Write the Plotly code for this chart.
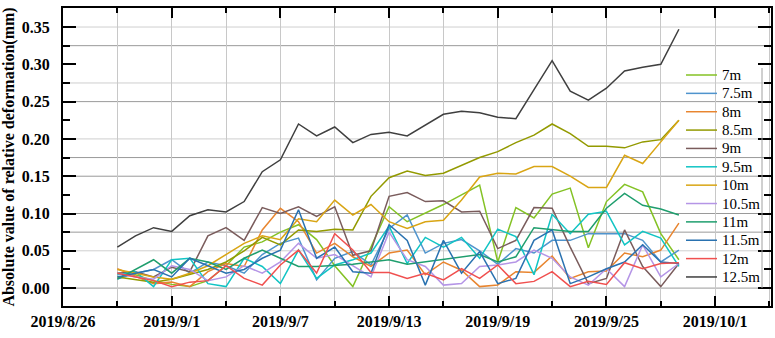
import pandas as pd
import plotly.graph_objects as go

dates = pd.date_range("2019-08-29", "2019-09-29", freq="D")

series_names = ["7m", "7.5m", "8m", "8.5m", "9m", "9.5m", "10m", "10.5m", "11m", "11.5m", "12m", "12.5m"]

v_7m = [0.020, 0.018, 0.010, 0.005, 0.002, 0.010, 0.030, 0.055, 0.062, 0.075, 0.085, 0.065, 0.030, 0.002, 0.055, 0.109,
        0.089, 0.100, 0.112, 0.125, 0.138, 0.035, 0.108, 0.094, 0.126, 0.134, 0.054, 0.116, 0.139, 0.129, 0.073, 0.038]
v_7_5m = [0.012, 0.020, 0.025, 0.038, 0.020, 0.035, 0.030, 0.020, 0.045, 0.060, 0.067, 0.011, 0.040, 0.049, 0.031, 0.080,
          0.098, 0.047, 0.060, 0.065, 0.050, 0.032, 0.053, 0.047, 0.064, 0.064, 0.073, 0.073, 0.073, 0.064, 0.035, 0.051]
v_8m = [0.026, 0.016, 0.006, 0.008, 0.002, 0.022, 0.033, 0.029, 0.078, 0.107, 0.089, 0.047, 0.060, 0.042, 0.029, 0.047,
        0.051, 0.018, 0.035, 0.024, 0.002, 0.004, 0.022, 0.021, 0.043, 0.013, 0.022, 0.023, 0.047, 0.042, 0.051, 0.087]
v_8_5m = [0.015, 0.012, 0.008, 0.012, 0.018, 0.025, 0.035, 0.050, 0.068, 0.058, 0.078, 0.076, 0.079, 0.078, 0.123, 0.148,
          0.157, 0.151, 0.154, 0.164, 0.175, 0.183, 0.195, 0.205, 0.220, 0.207, 0.190, 0.190, 0.188, 0.196, 0.199, 0.225]
v_9m = [0.020, 0.022, 0.015, 0.028, 0.022, 0.070, 0.081, 0.064, 0.108, 0.100, 0.109, 0.096, 0.109, 0.044, 0.050, 0.123,
        0.128, 0.116, 0.117, 0.102, 0.103, 0.053, 0.064, 0.108, 0.107, 0.055, 0.006, 0.013, 0.078, 0.029, 0.002, 0.033]
v_9_5m = [0.018, 0.022, 0.002, 0.038, 0.040, 0.006, 0.002, 0.040, 0.029, 0.006, 0.051, 0.013, 0.031, 0.038, 0.047, 0.083,
          0.033, 0.068, 0.055, 0.068, 0.040, 0.079, 0.069, 0.018, 0.099, 0.073, 0.099, 0.103, 0.058, 0.076, 0.067, 0.029]
v_10m = [0.025, 0.020, 0.015, 0.012, 0.020, 0.030, 0.045, 0.060, 0.070, 0.065, 0.093, 0.089, 0.118, 0.098, 0.112, 0.089,
         0.080, 0.089, 0.091, 0.118, 0.149, 0.154, 0.153, 0.163, 0.163, 0.150, 0.135, 0.135, 0.178, 0.167, 0.196, 0.225]
v_10_5m = [0.020, 0.015, 0.012, 0.030, 0.025, 0.010, 0.015, 0.030, 0.020, 0.035, 0.060, 0.040, 0.045, 0.030, 0.015, 0.075,
           0.038, 0.029, 0.004, 0.006, 0.029, 0.031, 0.035, 0.051, 0.040, 0.015, 0.004, 0.026, 0.002, 0.058, 0.015, 0.033]
v_11m = [0.012, 0.025, 0.038, 0.020, 0.040, 0.035, 0.025, 0.040, 0.051, 0.040, 0.029, 0.029, 0.030, 0.032, 0.035, 0.038,
         0.032, 0.035, 0.038, 0.042, 0.045, 0.035, 0.042, 0.081, 0.078, 0.076, 0.076, 0.107, 0.127, 0.111, 0.106, 0.098]
v_11_5m = [0.015, 0.020, 0.025, 0.015, 0.040, 0.030, 0.020, 0.025, 0.040, 0.051, 0.105, 0.040, 0.055, 0.022, 0.020, 0.085,
           0.064, 0.004, 0.064, 0.020, 0.049, 0.006, 0.013, 0.064, 0.078, 0.006, 0.015, 0.026, 0.035, 0.058, 0.035, 0.033]
v_12m = [0.020, 0.015, 0.010, 0.002, 0.008, 0.010, 0.030, 0.013, 0.004, 0.031, 0.051, 0.020, 0.073, 0.051, 0.021, 0.021,
         0.013, 0.020, 0.011, 0.026, 0.013, 0.031, 0.006, 0.009, 0.022, 0.002, 0.009, 0.005, 0.034, 0.026, 0.033, 0.034]
v_12_5m = [0.055, 0.070, 0.081, 0.076, 0.097, 0.105, 0.102, 0.116, 0.156, 0.172, 0.220, 0.204, 0.216, 0.195, 0.206, 0.209,
           0.204, 0.218, 0.233, 0.237, 0.235, 0.229, 0.227, 0.266, 0.305, 0.264, 0.252, 0.268, 0.291, 0.296, 0.300, 0.347]

series_values = [v_7m, v_7_5m, v_8m, v_8_5m, v_9m, v_9_5m, v_10m, v_10_5m, v_11m, v_11_5m, v_12m, v_12_5m]

colors = ["#84c225", "#4f94cd", "#e8852f", "#939a00", "#7a5c5c", "#11c4c4",
          "#d9a514", "#b595e6", "#1f9e6e", "#2a72b0", "#f0504f", "#3f3f3f"]

y_grid_dark = [0.0, 0.075, 0.10, 0.15, 0.175, 0.25, 0.325]
y_grid_light = [0.05, 0.20, 0.275, 0.35]

SERIF = "Liberation Serif, Times New Roman, serif"

# plot area geometry (pixels)
W, H = 775, 338
ML, MR, MT, MB = 63, 4, 8, 32
PW, PH = W - ML - MR, H - MT - MB


def px_x(p):
    return (p - ML) / PW


def px_y(p):
    return (H - MB - p) / PH


fig = go.Figure()
for name, vals, col in zip(series_names, series_values, colors):
    fig.add_trace(go.Scatter(x=dates, y=vals, mode="lines", name=name,
                             line=dict(color=col, width=1.5), showlegend=False))

shapes = []
annotations = []
for yv in y_grid_dark:
    shapes.append(dict(type="line", xref="paper", yref="y", x0=0, x1=1, y0=yv, y1=yv,
                       line=dict(color="#9a9a9a", width=1), layer="below"))
for yv in y_grid_light:
    shapes.append(dict(type="line", xref="paper", yref="y", x0=0, x1=1, y0=yv, y1=yv,
                       line=dict(color="#cfcfcf", width=1), layer="below"))

# legend (drawn manually to match entry spacing)
leg_top, leg_step = 75, 18.36
for k, (name, col) in enumerate(zip(series_names, colors)):
    yc = px_y(leg_top + leg_step * k)
    shapes.append(dict(type="line", xref="paper", yref="paper", x0=px_x(686), x1=px_x(717), y0=yc, y1=yc,
                       line=dict(color=col, width=1.5)))
    annotations.append(dict(xref="paper", yref="paper", x=px_x(720), y=yc, xanchor="left", yanchor="middle",
                            text=name, showarrow=False,
                            font=dict(family=SERIF, size=15, color="black")))
# partial legend frame line
shapes.append(dict(type="line", xref="paper", yref="paper", x0=px_x(762), x1=px_x(762), y0=px_y(288), y1=px_y(68),
                   line=dict(color="#a0a0a0", width=1)))

fig.update_layout(
    width=W, height=H,
    margin=dict(l=ML, r=MR, t=MT, b=MB),
    paper_bgcolor="white", plot_bgcolor="white",
    font=dict(family=SERIF, size=16, color="black"),
    shapes=shapes, annotations=annotations,
    showlegend=False,
)

fig.update_xaxes(
    type="date",
    range=["2019-08-26", "2019-10-04 02:00"],
    tick0="2019-08-26", dtick=6 * 86400000,
    tickformat="%Y/%-m/%-d",
    ticks="inside", ticklen=10, tickwidth=2, tickcolor="black",
    minor=dict(ticks="inside", ticklen=5, tickwidth=2, tickcolor="black",
               dtick=3 * 86400000, tick0="2019-08-26",
               showgrid=True, gridcolor="#c8c8c8", gridwidth=1),
    showgrid=True, gridcolor="#c8c8c8", gridwidth=1,
    showline=True, linecolor="black", linewidth=2, mirror="allticks",
    tickfont=dict(family=SERIF, size=16, color="black", weight="bold"),
    automargin=False,
    zeroline=False,
)

fig.update_yaxes(
    range=[-0.024, 0.3755],
    tick0=0, dtick=0.05, tickformat=".2f",
    ticks="inside", ticklen=13, tickwidth=2, tickcolor="black",
    minor=dict(ticks="inside", ticklen=7, tickwidth=2, tickcolor="black", dtick=0.025, showgrid=False),
    showgrid=False,
    showline=True, linecolor="black", linewidth=2, mirror="allticks",
    tickfont=dict(family=SERIF, size=16, color="black", weight="bold"),
    ticklabelstandoff=8,
    automargin=False,
    zeroline=False,
    title=dict(text="Absolute value of relative deformation(mm)",
               font=dict(family=SERIF, size=16, color="black", weight="bold"), standoff=4),
)

fig.write_html("out.html", config={"displayModeBar": False},
               post_script="document.body.style.margin='0';")
